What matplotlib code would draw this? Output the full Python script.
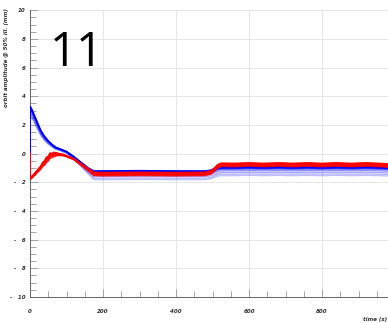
import matplotlib
matplotlib.use("Agg")
import matplotlib.pyplot as plt
import numpy as np

# keypoints of the ensemble mean curves (time in s, amplitude in mm)
times = [0, 1, 5, 10, 20, 30, 35, 40, 45, 50, 55, 60, 65, 70, 75, 80, 90, 100, 120, 140, 160, 175,
         200, 300, 400, 480, 495, 505, 515, 525, 560, 600, 640, 680, 720, 760,
         800, 840, 880, 920, 960, 980, 1000]
blue_mean = [0.0, 3.3, 3.1, 2.8, 2.2, 1.6, 1.4, 1.2, 1.05, 0.9, 0.78, 0.65, 0.55, 0.45, 0.4, 0.35, 0.25, 0.15,
             -0.2, -0.6, -1.0, -1.2,
             -1.2, -1.18, -1.2, -1.2, -1.15, -1.05, -0.95, -0.92, -0.92, -0.9, -0.92, -0.9, -0.92, -0.9,
             -0.92, -0.9, -0.92, -0.9, -0.92, -0.95, -1.05]
red_mean = [0.0, -1.7, -1.6, -1.45, -1.15, -0.85, -0.6, -0.5, -0.25, -0.2, 0.05, 0.0, 0.1, 0.05, 0.05, 0.0, -0.05,
            -0.15, -0.35, -0.7, -1.05, -1.3,
            -1.32, -1.3, -1.32, -1.3, -1.2, -1.0, -0.75, -0.66, -0.68, -0.64, -0.68, -0.64, -0.68, -0.64,
            -0.68, -0.64, -0.68, -0.64, -0.68, -0.72, -0.8]
# how far the members fan out from the mean along the run
blue_spread = [0, 1.0, 1.0, 0.9, 0.8, 0.6, 0.55, 0.5, 0.45, 0.4, 0.35, 0.3, 0.28, 0.25, 0.22, 0.2, 0.2, 0.2,
               0.3, 0.5, 0.7, 1.0,
               1.0, 1.0, 1.0, 1.0, 1.0, 1.0, 1.0, 1.0, 1.0, 1.0, 1.0, 1.0, 1.0, 1.0,
               1.0, 1.0, 1.0, 1.0, 1.0, 1.0, 1.0]
red_spread = [0, 0.4, 0.5, 0.6, 0.8, 1.0, 1.2, 1.4, 1.6, 1.4, 1.6, 1.2, 1.4, 1.0, 0.8, 0.6, 0.4,
              0.3, 0.3, 0.5, 0.7, 1.0,
              1.0, 1.0, 1.0, 1.0, 1.0, 1.0, 1.0, 1.0, 1.0, 1.0, 1.0, 1.0, 1.0, 1.0,
              1.0, 1.0, 1.0, 1.0, 1.0, 1.0, 1.0]
# ensemble member offsets and line opacity
blue_offsets = [0.0, -0.04, -0.08, -0.12, -0.18, -0.28, -0.4, -0.52, -0.62]
blue_alpha = [1.0, 1.0, 0.9, 0.8, 0.6, 0.45, 0.35, 0.3, 0.25]
red_offsets = [0.0, -0.04, -0.08, -0.12, -0.16, -0.2, -0.24]
red_alpha = [1.0, 1.0, 0.9, 0.9, 0.8, 0.8, 0.7]

yticks = [10, 8, 6, 4, 2, 0, -2, -4, -6, -8, -10]
ytick_labels = ["10", "8", "6", "4", "2", "0", "-   2", "-   4", "-   6", "-   8", "-   10"]
xticks = [0, 200, 400, 600, 800]
xtick_labels = ["0", "200", "400", "600", "800"]


def main():
    fig = plt.figure(figsize=(3.88, 3.23), dpi=100)
    ax = fig.add_axes([0.0773, 0.0805, 0.941, 0.888])

    t = np.array(times)
    for off, a in zip(blue_offsets, blue_alpha):
        ax.plot(t, np.array(blue_mean) + off * np.array(blue_spread),
                color="blue", lw=0.9, alpha=a, zorder=3)
    for off, a in zip(red_offsets, red_alpha):
        ax.plot(t, np.array(red_mean) + off * np.array(red_spread),
                color="red", lw=1.0, alpha=a, zorder=4)

    ax.set_xlim(0, 1000)
    ax.set_ylim(-10, 10)
    ax.set_yticks(yticks)
    ax.set_yticklabels(ytick_labels)
    ax.set_xticks(xticks)
    ax.set_xticklabels(xtick_labels)
    ax.set_yticks(np.arange(-10, 10.1, 0.5), minor=True)
    ax.set_xticks(np.arange(0, 1001, 50), minor=True)
    ax.tick_params(which="major", direction="in", length=6, width=0.6, color="#999999",
                   labelsize=4, labelcolor="#333333")
    ax.tick_params(which="minor", direction="in", length=4, width=0.6, color="#999999")
    ax.tick_params(axis="x", pad=9)
    ax.tick_params(axis="y", pad=3)
    for lab in ax.get_xticklabels() + ax.get_yticklabels():
        lab.set_fontstyle("italic")
        lab.set_fontweight("bold")

    ax.grid(True, which="major", color="#e2e2e2", lw=0.6)
    for spine in ["top", "right"]:
        ax.spines[spine].set_visible(False)
    for spine in ["bottom", "left"]:
        ax.spines[spine].set_color("#666666")
        ax.spines[spine].set_linewidth(0.7)

    fig.text(0.017, 1 - 8 / 323, "orbit amplitude @ 50% ill. (mm)", rotation=90,
             ha="center", va="top", fontsize=4, fontstyle="italic", fontweight="bold",
             color="#333333")
    fig.text(0.997, 0.004, "time (s)", ha="right", va="bottom", fontsize=4,
             fontstyle="italic", fontweight="bold", color="#333333")
    fig.text(50 / 388, 1 - 66 / 323, "11", fontsize=34, family="Open Sans",
             ha="left", va="baseline", color="black")

    fig.savefig("out.png", dpi=100)


if __name__ == "__main__":
    main()
